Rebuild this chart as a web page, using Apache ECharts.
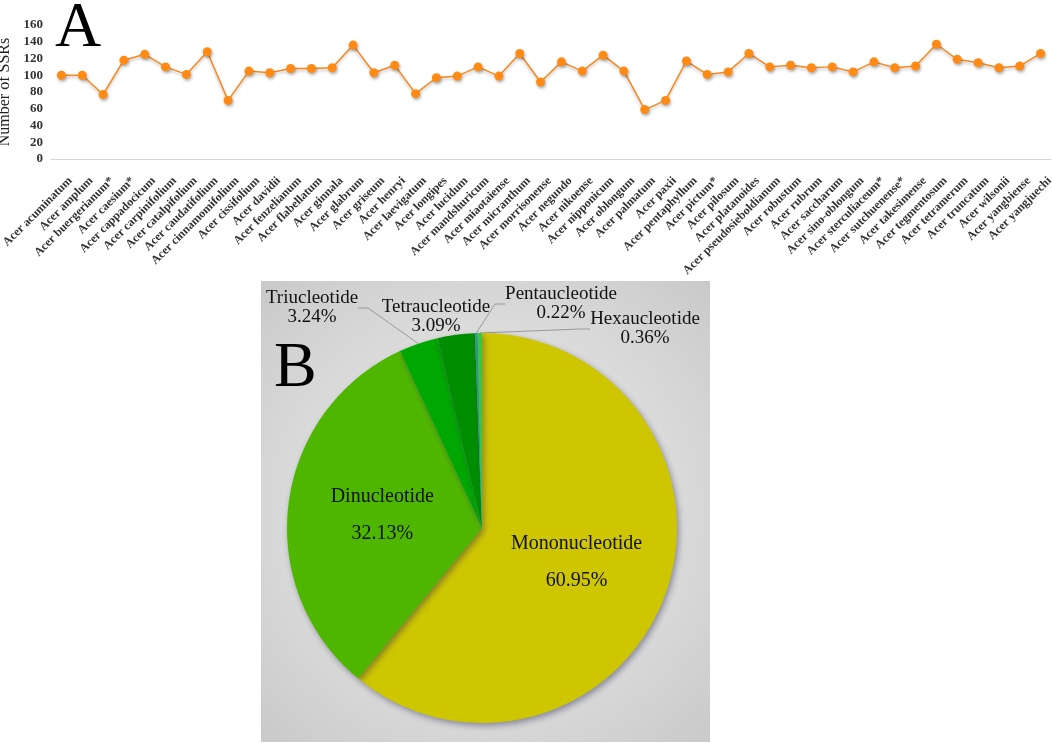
<!DOCTYPE html>
<html>
<head>
<meta charset="utf-8">
<script src="https://cdn.jsdelivr.net/npm/echarts@6/dist/echarts.min.js"></script>
<style>html,body{margin:0;padding:0;background:#fff}#c{width:1052px;height:743px}</style>
</head>
<body>
<div id="c"></div>
<script>
const species = ['Acer acuminatum','Acer amplum','Acer buergerianum*','Acer caesium*','Acer cappadocicum','Acer carpinifolium','Acer catalpifolium','Acer caudatifolium','Acer cinnamomifolium','Acer cissifolium','Acer davidii','Acer fenzelianum','Acer flabellatum','Acer ginnala','Acer glabrum','Acer griseum','Acer henryi','Acer laevigatum','Acer longipes','Acer lucidum','Acer mandshuricum','Acer miaotaiense','Acer micranthum','Acer morrisonense','Acer negundo','Acer nikoense','Acer nipponicum','Acer oblongum','Acer palmatum','Acer paxii','Acer pentaphyllum','Acer pictum*','Acer pilosum','Acer platanoides','Acer pseudosieboldianum','Acer robustum','Acer rubrum','Acer saccharum','Acer sino-oblongum','Acer sterculiaceum*','Acer sutchuenense*','Acer takesimense','Acer tegmentosum','Acer tetramerum','Acer truncatum','Acer wilsonii','Acer yangbiense','Acer yangjuechi'];
const ssrCounts = [100,100,77,118,125,110,101,128,70,105,103,108,108,109,136,103,112,78,97,99,110,99,126,92,116,105,124,105,59,70,117,101,104,126,110,112,109,110,104,116,109,111,137,119,115,109,111,126];
const yTicks = [0,20,40,60,80,100,120,140,160];
const motifTypes = ['Mononucleotide','Dinucleotide','Triucleotide','Tetraucleotide','Pentaucleotide','Hexaucleotide'];
const motifPercents = [60.95,32.13,3.24,3.09,0.22,0.36];
const motifColors = ['#cec600','#4fb600','#00a700','#008d00','#2a9f8c','#3fc43f'];

const serif = '"Liberation Serif","Times New Roman",serif';
const chart = echarts.init(document.getElementById('c'));

// label anchor positions for outside pie labels (centre of text block)
const outsidePos = {2:[312,308],3:[436,317],4:[561,304],5:[645,329]};

chart.setOption({
  animation:false,
  graphic:[
    {type:'rect',z:-10,shape:{x:261,y:281,width:449,height:461},
     style:{fill:{type:'radial',x:0.5,y:0.5,r:0.72,colorStops:[{offset:0,color:'#f3f3f3'},{offset:1,color:'#c9c9c9'}]}}},
    {type:'text',left:55,top:-3,style:{text:'A',font:'64px '+serif,fill:'#000'}},
    {type:'text',left:274,top:337,z:20,style:{text:'B',font:'64px '+serif,fill:'#000'}}
  ],
  grid:[
    {left:51,width:1000,top:25,height:134,outerBoundsMode:'none',containLabel:false},
    {left:60,width:1000,top:25,height:134,outerBoundsMode:'none',containLabel:false}
  ],
  xAxis:[
    {type:'category',gridIndex:0,data:species,boundaryGap:true,
     axisLine:{lineStyle:{color:'#d6d6d6',width:1}},axisTick:{show:false},axisLabel:{show:false}},
    {type:'category',gridIndex:1,data:species,boundaryGap:true,
     axisLine:{show:false},axisTick:{show:false},
     axisLabel:{interval:0,rotate:45,margin:20,fontFamily:serif,fontWeight:'bold',fontSize:12,color:'#333'}}
  ],
  yAxis:[
    {type:'value',gridIndex:0,min:0,max:160,interval:20,
     name:'Number of SSRs',nameLocation:'middle',nameGap:34,
     nameTextStyle:{fontFamily:serif,fontSize:16,color:'#222'},
     axisLine:{show:false},axisTick:{show:false},splitLine:{show:false},
     axisLabel:{margin:8,fontFamily:serif,fontWeight:'bold',fontSize:13,color:'#333',
       formatter:v=>yTicks.includes(v)?String(v):''}},
    {type:'value',gridIndex:1,min:0,max:160,show:false}
  ],
  series:[
    {type:'line',xAxisIndex:0,yAxisIndex:0,data:ssrCounts,
     symbol:'circle',symbolSize:9,
     lineStyle:{color:'#f7881e',width:1.5,shadowColor:'rgba(0,0,0,0.25)',shadowBlur:3,shadowOffsetY:2},
     itemStyle:{color:'#ff8a14',shadowColor:'rgba(0,0,0,0.3)',shadowBlur:3,shadowOffsetX:1,shadowOffsetY:2}},
    {type:'pie',center:[482,528],radius:195,startAngle:90,clockwise:true,
     avoidLabelOverlap:false,
     itemStyle:{shadowColor:'rgba(40,40,80,0.45)',shadowBlur:6,shadowOffsetX:2,shadowOffsetY:3},
     label:{fontFamily:serif,fontSize:19,color:'#111',lineHeight:19,formatter:'{b}\n{c}%'},
     labelLine:{show:true,length:10,length2:10,lineStyle:{color:'#9a9a9a',width:1}},
     labelLayout:function(p){
       const pos = outsidePos[p.dataIndex];
       if(!pos) return {};
       return {x:pos[0],y:pos[1],align:'center',verticalAlign:'middle'};
     },
     data:motifTypes.map((n,i)=>{
       const d={name:n,value:motifPercents[i],itemStyle:{color:motifColors[i]}};
       if(i<2){
         d.label={position:'inside',fontSize:20,lineHeight:37,formatter:'{b}\n{c}%'};
         d.labelLine={show:false};
       } else {
         d.label={position:'outside'};
         if(i===3) d.labelLine={show:false};
       }
       return d;
     })}
  ]
});
</script>
</body>
</html>
